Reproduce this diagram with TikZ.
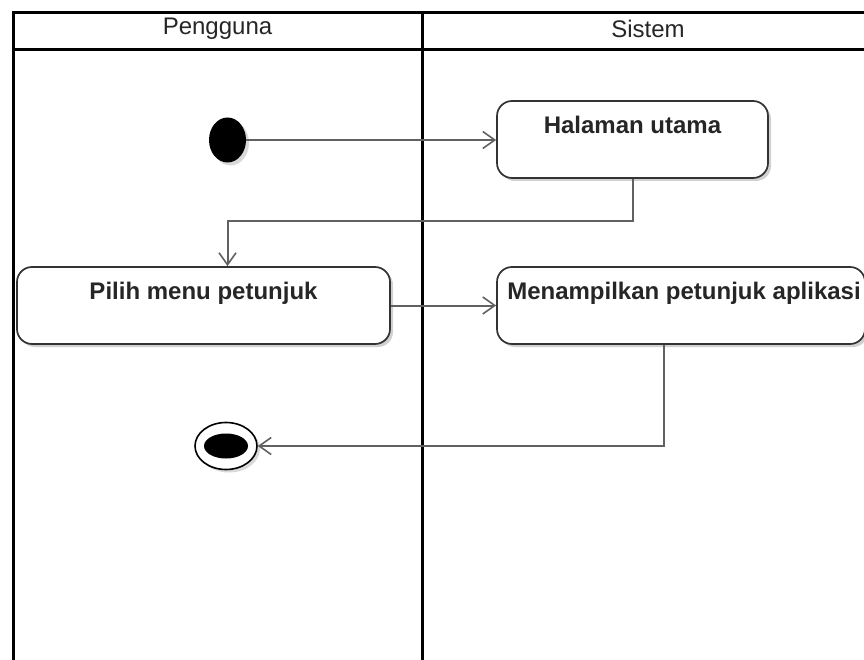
\documentclass[tikz,border=0pt]{standalone}
\usepackage{fontspec}
\setmainfont{Liberation Sans}
\usetikzlibrary{shapes.geometric,arrows.meta,shadows,calc}
\begin{document}
\begin{tikzpicture}[x=1pt,y=-1pt,
  lane/.style={line width=3pt,black},
  hdr/.style={font=\fontsize{24}{28}\selectfont,inner sep=0pt,text=black!85},
  act/.style={draw=black!80,line width=1.7pt,rounded corners=15pt,fill=white,
    minimum height=77pt,inner sep=0pt,
    drop shadow={shadow xshift=3pt,shadow yshift=-3pt,opacity=0.18,fill=black}},
  lbl/.style={font=\bfseries\fontsize{24}{28}\selectfont,inner sep=0pt,anchor=base,text=black!85},
  flow/.style={draw=black!62,line width=2pt,-{Straight Barb[length=12pt,width=17pt,line width=1.6pt]}},
  startnode/.style={ellipse,fill=black,minimum width=37pt,minimum height=45pt,inner sep=0pt,
    drop shadow={shadow xshift=3pt,shadow yshift=-3pt,opacity=0.15,fill=black}},
  endouter/.style={ellipse,draw=black,line width=1.6pt,fill=white,minimum width=62pt,minimum height=47pt,inner sep=0pt,
    drop shadow={shadow xshift=3pt,shadow yshift=-3pt,opacity=0.15,fill=black}},
  endinner/.style={ellipse,fill=black,minimum width=44pt,minimum height=25pt,inner sep=0pt}]
\useasboundingbox (0,0) rectangle (864,660);
\fill[white] (0,0) rectangle (864,660);
% swimlanes
\draw[lane] (13,662) -- (13,13) -- (866,13);
\draw[lane] (13,50) -- (866,50);
\draw[lane] (422,13) -- (422,662);
\node[hdr] (h1) at (217.5,29) {Pengguna};
\node[hdr] (h2) at (648,29) {Sistem};
% nodes
\node[startnode] (init) at (227.5,140) {};
\node[act,minimum width=271pt] (hal) at (632.5,139.5) {};
\node[lbl] (thal) at ([yshift=-33pt]hal.north) {Halaman utama};
\node[act,minimum width=373pt] (pilih) at (203.5,305.5) {};
\node[lbl] (tpilih) at ([yshift=-33pt]pilih.north) {Pilih menu petunjuk};
\node[act,minimum width=368pt] (men) at (681,305.5) {};
\node[lbl] (tmen) at ([xshift=3pt,yshift=-33pt]men.north) {Menampilkan petunjuk aplikasi};
\node[endouter] (fin) at (226,446) {};
\node[endinner] (fini) at (fin.center) {};
% connectors
\draw[flow] (init.east) -- (hal.west |- init.east);
\draw[flow] (hal.south) |- ($(init |- pilih.north)+(0,-45)$) -- (init |- pilih.north);
\draw[flow] (pilih.east) -- (men.west);
\draw[flow] ($(men.south)+(-17,0)$) |- (fin.east);
\end{tikzpicture}
\end{document}
